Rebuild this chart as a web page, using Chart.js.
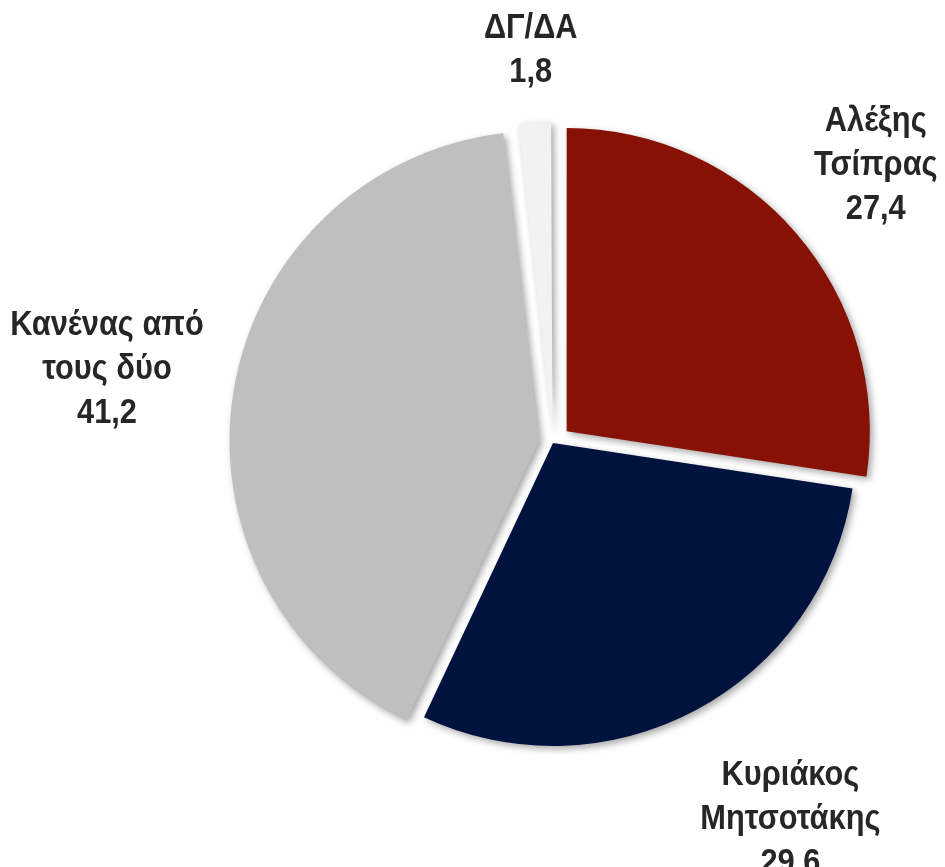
<!DOCTYPE html>
<html>
<head>
<meta charset="utf-8">
<script src="https://cdn.jsdelivr.net/npm/chart.js@4"></script>
<style>
  html, body { margin: 0; padding: 0; background: #fff; }
  #wrap { width: 945px; height: 867px; }
</style>
</head>
<body>
<div id="wrap"><canvas id="myChart"></canvas></div>
<script>
// data
var categories = [['Αλέξης', 'Τσίπρας'], ['Κυριάκος', 'Μητσοτάκης'], ['Κανένας από', 'τους δύο'], ['ΔΓ/ΔΑ']];
var values = [27.4, 29.6, 41.2, 1.8];
var colors = ['#861104', '#00133f', '#bfbfbf', '#f2f2f2'];

// soft drop shadow under the slices
var shadowPlugin = {
    id: 'shadow',
    beforeDatasetsDraw: function (chart) {
        var ctx = chart.ctx;
        ctx.save();
        ctx.shadowColor = 'rgba(0,0,0,0.35)';
        ctx.shadowBlur = 7;
        ctx.shadowOffsetX = 3;
        ctx.shadowOffsetY = 3;
    },
    afterDatasetsDraw: function (chart) {
        chart.ctx.restore();
    }
};

// outside-end labels: name lines + value (narrow bold look via horizontal squeeze)
var labelPlugin = {
    id: 'outLabels',
    afterDraw: function (chart, args, opts) {
        var ctx = chart.ctx;
        var meta = chart.getDatasetMeta(0);
        var ds = chart.data.datasets[0];
        ctx.save();
        ctx.font = opts.font;
        ctx.fillStyle = opts.color;
        ctx.textAlign = 'center';
        ctx.textBaseline = 'middle';
        meta.data.forEach(function (arc, i) {
            var p = arc.getProps(['x', 'y', 'startAngle', 'endAngle', 'outerRadius'], true);
            var lines = chart.data.labels[i].concat([ds.data[i].toFixed(1).replace('.', ',')]);
            var w = 0;
            lines.forEach(function (l) { w = Math.max(w, ctx.measureText(l).width * opts.squeeze); });
            var hw = w / 2;
            var hh = lines.length * opts.lineHeight / 2 - 8;
            var mid = (p.startAngle + p.endAngle) / 2;
            var off = (ds.offset[i] || 0) / 4;
            var dir = mid + (opts.turn[i] || 0) * Math.PI / 180;
            var ux = Math.cos(dir), uy = Math.sin(dir);
            var anchor = p.outerRadius + off + opts.pad[i];
            var ex = Math.abs(ux) > 1e-6 ? hw / Math.abs(ux) : Infinity;
            var ey = Math.abs(uy) > 1e-6 ? hh / Math.abs(uy) : Infinity;
            var dist = anchor + Math.min(ex, ey);
            var cx = p.x + ux * dist;
            var cy = p.y + uy * dist;
            var top = cy - (lines.length - 1) * opts.lineHeight / 2;
            lines.forEach(function (l, k) {
                ctx.save();
                ctx.translate(cx, top + k * opts.lineHeight);
                ctx.scale(opts.squeeze, 1);
                ctx.fillText(l, 0, 0);
                ctx.restore();
            });
        });
        ctx.restore();
    }
};

var ctx = document.getElementById('myChart').getContext('2d');
var chart = new Chart(ctx, {
    type: 'pie',
    data: {
        labels: categories,
        datasets: [{
            data: values,
            backgroundColor: colors,
            borderWidth: 0,
            offset: [72, 0, 56, 38]
        }]
    },
    options: {
        responsive: true,
        maintainAspectRatio: false,
        animation: false,
        radius: 303,
        layout: { padding: { left: 161, top: 19 } },
        plugins: {
            legend: { display: false },
            tooltip: { enabled: false },
            outLabels: {
                font: 'bold 35px "Liberation Sans", Arial, sans-serif',
                color: '#262626',
                lineHeight: 44,
                squeeze: 0.88,
                pad: [23, 73, 37, 45],
                turn: [0, -4.2, 0, 0]
            }
        }
    },
    plugins: [shadowPlugin, labelPlugin]
});
</script>
</body>
</html>
